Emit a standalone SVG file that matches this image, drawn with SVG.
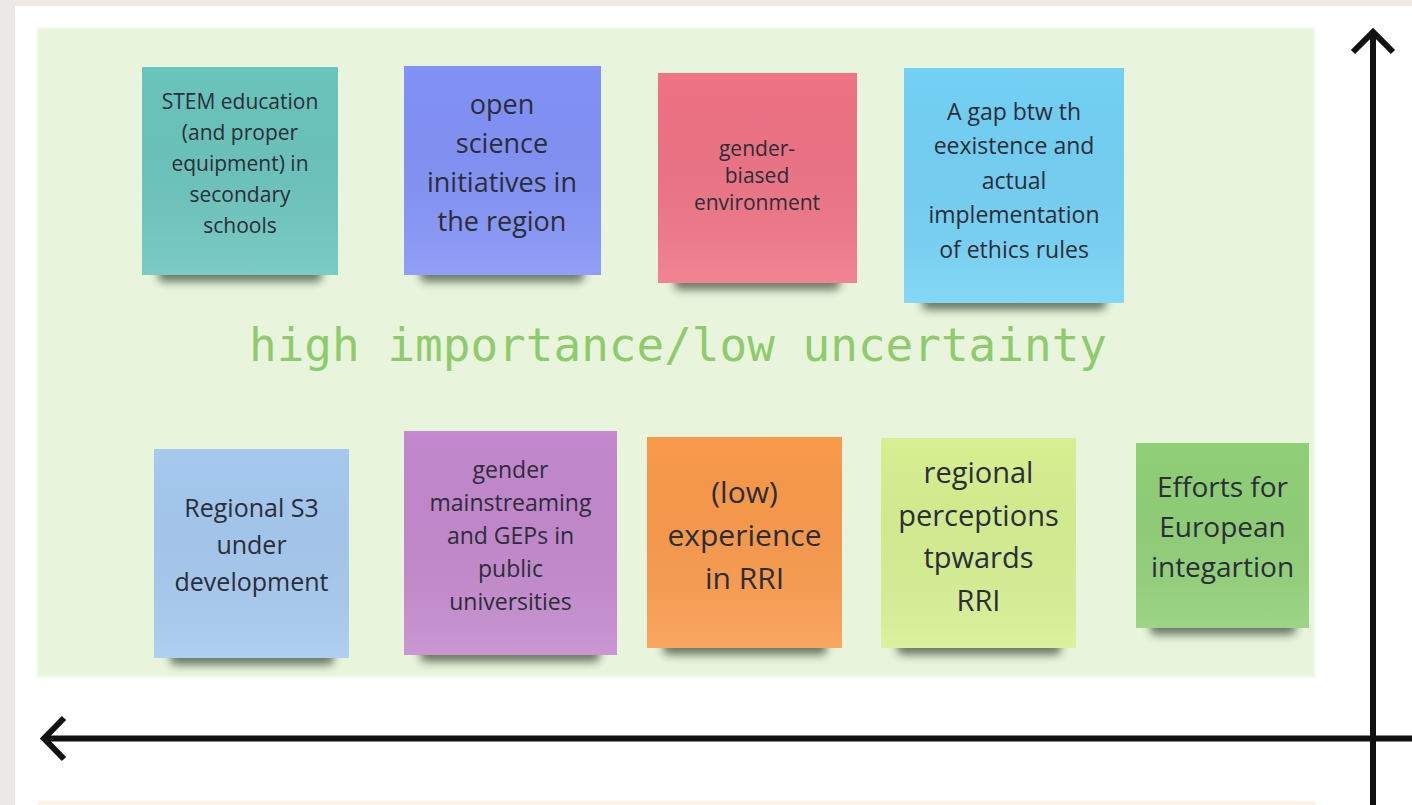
<svg xmlns="http://www.w3.org/2000/svg" width="1412" height="805" viewBox="0 0 1412 805">
<defs>
<filter id="sh" x="-20%" y="-100%" width="140%" height="300%"><feGaussianBlur stdDeviation="4.5"/></filter>
<filter id="soft" x="-5%" y="-5%" width="110%" height="110%"><feGaussianBlur stdDeviation="1.5"/></filter>
<linearGradient id="gl" x1="0" y1="0" x2="0" y2="1"><stop offset="0" stop-color="#000" stop-opacity="0"/><stop offset="1" stop-color="#fff" stop-opacity="0.12"/></linearGradient>
</defs>
<style>
.note text{font-family:"Open Sans","Noto Sans","Liberation Sans",sans-serif;fill:#2b2d38;text-anchor:middle}
.shadow{fill:#1e2a1e;opacity:0.6;filter:url(#sh)}
.gloss{fill:url(#gl)}
.axis{stroke:#111;stroke-width:6;fill:none}
.title{font-family:"DejaVu Sans Mono","Liberation Mono",monospace;font-size:46px;fill:#8fcb6c}
</style>
<rect width="1412" height="805" fill="#ffffff"/>
<rect x="0" y="0" width="1412" height="6" fill="#ebe8e6"/>
<rect x="0" y="0" width="15" height="805" fill="#ebe8e6"/>
<rect x="37" y="28" width="1278" height="649" fill="#e8f5dc" filter="url(#soft)"/>
<rect x="38" y="801" width="1277" height="10" fill="#fdf0e5"/>
<text class="title" x="249" y="361" textLength="858" lengthAdjust="spacingAndGlyphs">high importance/low uncertainty</text>

<g id="n1" class="note">
<rect class="shadow" x="158" y="264" width="164" height="18" rx="6"/>
<rect x="142" y="67" width="196" height="208" fill="#6ac5bd"/>
<rect class="gloss" x="142" y="67" width="196" height="208"/>
<text font-size="21"><tspan x="240" y="109">STEM education</tspan><tspan x="240" y="140">(and proper</tspan><tspan x="240" y="171">equipment) in</tspan><tspan x="240" y="202">secondary</tspan><tspan x="240" y="233">schools</tspan></text>
</g>
<g id="n2" class="note">
<rect class="shadow" x="420" y="264" width="164" height="18" rx="6"/>
<rect x="404" y="66" width="197" height="209" fill="#8292f7"/>
<rect class="gloss" x="404" y="66" width="197" height="209"/>
<text font-size="27"><tspan x="502" y="114">open</tspan><tspan x="502" y="153">science</tspan><tspan x="502" y="192">initiatives in</tspan><tspan x="502" y="231">the region</tspan></text>
</g>
<g id="n3" class="note">
<rect class="shadow" x="674" y="272" width="166" height="18" rx="6"/>
<rect x="658" y="73" width="199" height="210" fill="#ef7385"/>
<rect class="gloss" x="658" y="73" width="199" height="210"/>
<text font-size="21"><tspan x="757" y="156">gender-</tspan><tspan x="757" y="183">biased</tspan><tspan x="757" y="210">environment</tspan></text>
</g>
<g id="n4" class="note">
<rect class="shadow" x="922" y="292" width="184" height="18" rx="6"/>
<rect x="904" y="68" width="220" height="235" fill="#73d1f5"/>
<rect class="gloss" x="904" y="68" width="220" height="235"/>
<text font-size="23"><tspan x="1014" y="120">A gap btw th</tspan><tspan x="1014" y="154">eexistence and</tspan><tspan x="1014" y="189">actual</tspan><tspan x="1014" y="223">implementation</tspan><tspan x="1014" y="258">of ethics rules</tspan></text>
</g>
<g id="n5" class="note">
<rect class="shadow" x="170" y="647" width="164" height="18" rx="6"/>
<rect x="154" y="449" width="195" height="209" fill="#a5c9ef"/>
<rect class="gloss" x="154" y="449" width="195" height="209"/>
<text font-size="25"><tspan x="251.5" y="517">Regional S3</tspan><tspan x="251.5" y="554">under</tspan><tspan x="251.5" y="591">development</tspan></text>
</g>
<g id="n6" class="note">
<rect class="shadow" x="420" y="644" width="180" height="18" rx="6"/>
<rect x="404" y="431" width="213" height="224" fill="#c388cd"/>
<rect class="gloss" x="404" y="431" width="213" height="224"/>
<text font-size="23"><tspan x="510.5" y="478">gender</tspan><tspan x="510.5" y="511">mainstreaming</tspan><tspan x="510.5" y="544">and GEPs in</tspan><tspan x="510.5" y="577">public</tspan><tspan x="510.5" y="610">universities</tspan></text>
</g>
<g id="n7" class="note">
<rect class="shadow" x="663" y="637" width="164" height="18" rx="6"/>
<rect x="647" y="437" width="195" height="211" fill="#fa9a4b"/>
<rect class="gloss" x="647" y="437" width="195" height="211"/>
<text font-size="30"><tspan x="744.5" y="503">(low)</tspan><tspan x="744.5" y="546">experience</tspan><tspan x="744.5" y="589">in RRI</tspan></text>
</g>
<g id="n8" class="note">
<rect class="shadow" x="897" y="637" width="164" height="18" rx="6"/>
<rect x="881" y="438" width="195" height="210" fill="#d6f091"/>
<rect class="gloss" x="881" y="438" width="195" height="210"/>
<text font-size="29"><tspan x="978.5" y="483">regional</tspan><tspan x="978.5" y="526">perceptions</tspan><tspan x="978.5" y="568">tpwards</tspan><tspan x="978.5" y="611">RRI</tspan></text>
</g>
<g id="n9" class="note">
<rect class="shadow" x="1150" y="617" width="146" height="18" rx="6"/>
<rect x="1136" y="443" width="173" height="185" fill="#90d077"/>
<rect class="gloss" x="1136" y="443" width="173" height="185"/>
<text font-size="28"><tspan x="1222.5" y="497">Efforts for</tspan><tspan x="1222.5" y="537">European</tspan><tspan x="1222.5" y="577">integartion</tspan></text>
</g>

<g id="connectors">
<line class="axis" x1="1373" y1="33" x2="1373" y2="805"/>
<polyline class="axis" points="1353,52 1373,32 1393,52"/>
<line class="axis" x1="45" y1="738.5" x2="1412" y2="738.5"/>
<polyline class="axis" points="64,718 44,738.5 64,759"/>
</g>
</svg>
